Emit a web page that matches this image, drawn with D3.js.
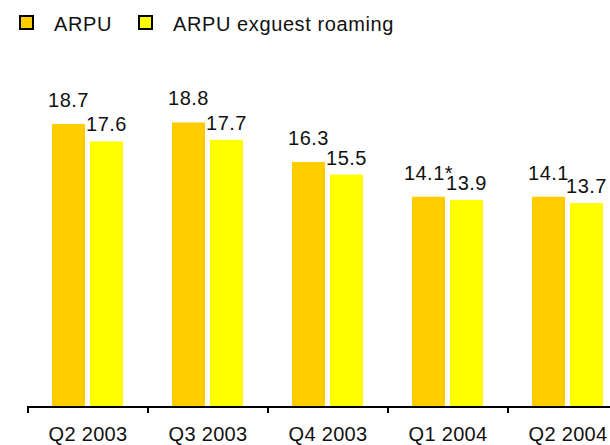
<!DOCTYPE html>
<html>
<head>
<meta charset="utf-8">
<script src="https://cdn.jsdelivr.net/npm/d3@7"></script>
<style>
  html, body { margin: 0; padding: 0; background: #fff; }
  svg { display: block; }
  text { font-family: "Liberation Sans", Arial, sans-serif; fill: #111; }
</style>
</head>
<body>
<svg id="chart" width="610" height="445"></svg>
<script>
// ---- data ----
const categories = ["Q2 2003", "Q3 2003", "Q4 2003", "Q1 2004", "Q2 2004"];
const seriesNames = ["ARPU", "ARPU exguest roaming"];
const arpu = [18.7, 18.8, 16.3, 14.1, 14.1];
const arpuExRoaming = [17.6, 17.7, 15.5, 13.9, 13.7];
const arpuLabels = ["18.7", "18.8", "16.3", "14.1*", "14.1"];
const arpuExLabels = ["17.6", "17.7", "15.5", "13.9", "13.7"];

// ---- layout ----
const colors = ["#FFCC00", "#FFFF00"];
const svg = d3.select("#chart");
const baseY = 407;

const x = d3.scaleBand().domain(categories).range([28, 628]).paddingInner(0).paddingOuter(0);
const xInner = d3.scaleBand().domain(seriesNames).range([24, 95]).paddingInner(0.1316).paddingOuter(0);
const y = d3.scaleLinear().domain([0.8, 18.7]).range([baseY, 124]);

const rows = categories.map((c, i) => ({
  cat: c,
  vals: [
    { s: seriesNames[0], v: arpu[i], label: arpuLabels[i], off: 17 },
    { s: seriesNames[1], v: arpuExRoaming[i], label: arpuExLabels[i], off: 10 }
  ]
}));

const g = svg.append("g");
const groups = g.selectAll("g.cat").data(rows).join("g")
  .attr("transform", d => `translate(${x(d.cat)},0)`);

groups.selectAll("rect").data(d => d.vals).join("rect")
  .attr("x", d => xInner(d.s))
  .attr("width", xInner.bandwidth())
  .attr("y", d => y(d.v))
  .attr("height", d => baseY - y(d.v))
  .attr("fill", (d, i) => colors[i]);

groups.selectAll("text.val").data(d => d.vals).join("text")
  .attr("class", "val")
  .attr("x", d => xInner(d.s) + xInner.bandwidth() / 2)
  .attr("y", d => y(d.v) - d.off)
  .attr("text-anchor", "middle")
  .attr("font-size", 20)
  .attr("letter-spacing", 0.5)
  .text(d => d.label);

// ---- axis ----
const axis = svg.append("g");
axis.append("line")
  .attr("x1", 27).attr("x2", 610)
  .attr("y1", baseY).attr("y2", baseY)
  .attr("stroke", "#000").attr("stroke-width", 2);
axis.selectAll("line.tick").data(categories).join("line")
  .attr("class", "tick")
  .attr("x1", d => x(d)).attr("x2", d => x(d))
  .attr("y1", baseY).attr("y2", baseY + 6)
  .attr("stroke", "#000").attr("stroke-width", 2);
axis.selectAll("text").data(categories).join("text")
  .attr("x", d => x(d) + x.bandwidth() / 2)
  .attr("y", 441)
  .attr("text-anchor", "middle")
  .attr("font-size", 20)
  .attr("letter-spacing", 0.3)
  .text(d => d);

// ---- legend ----
const legendX = [20, 139];
const legend = svg.append("g");
const items = legend.selectAll("g").data(seriesNames).join("g")
  .attr("transform", (d, i) => `translate(${legendX[i]},16)`);
items.append("rect")
  .attr("width", 13).attr("height", 13)
  .attr("fill", (d, i) => colors[i])
  .attr("stroke", "#000").attr("stroke-width", 2);
items.append("text")
  .attr("x", 34).attr("y", 15)
  .attr("font-size", 20)
  .attr("letter-spacing", 0.6)
  .text(d => d);
</script>
</body>
</html>
